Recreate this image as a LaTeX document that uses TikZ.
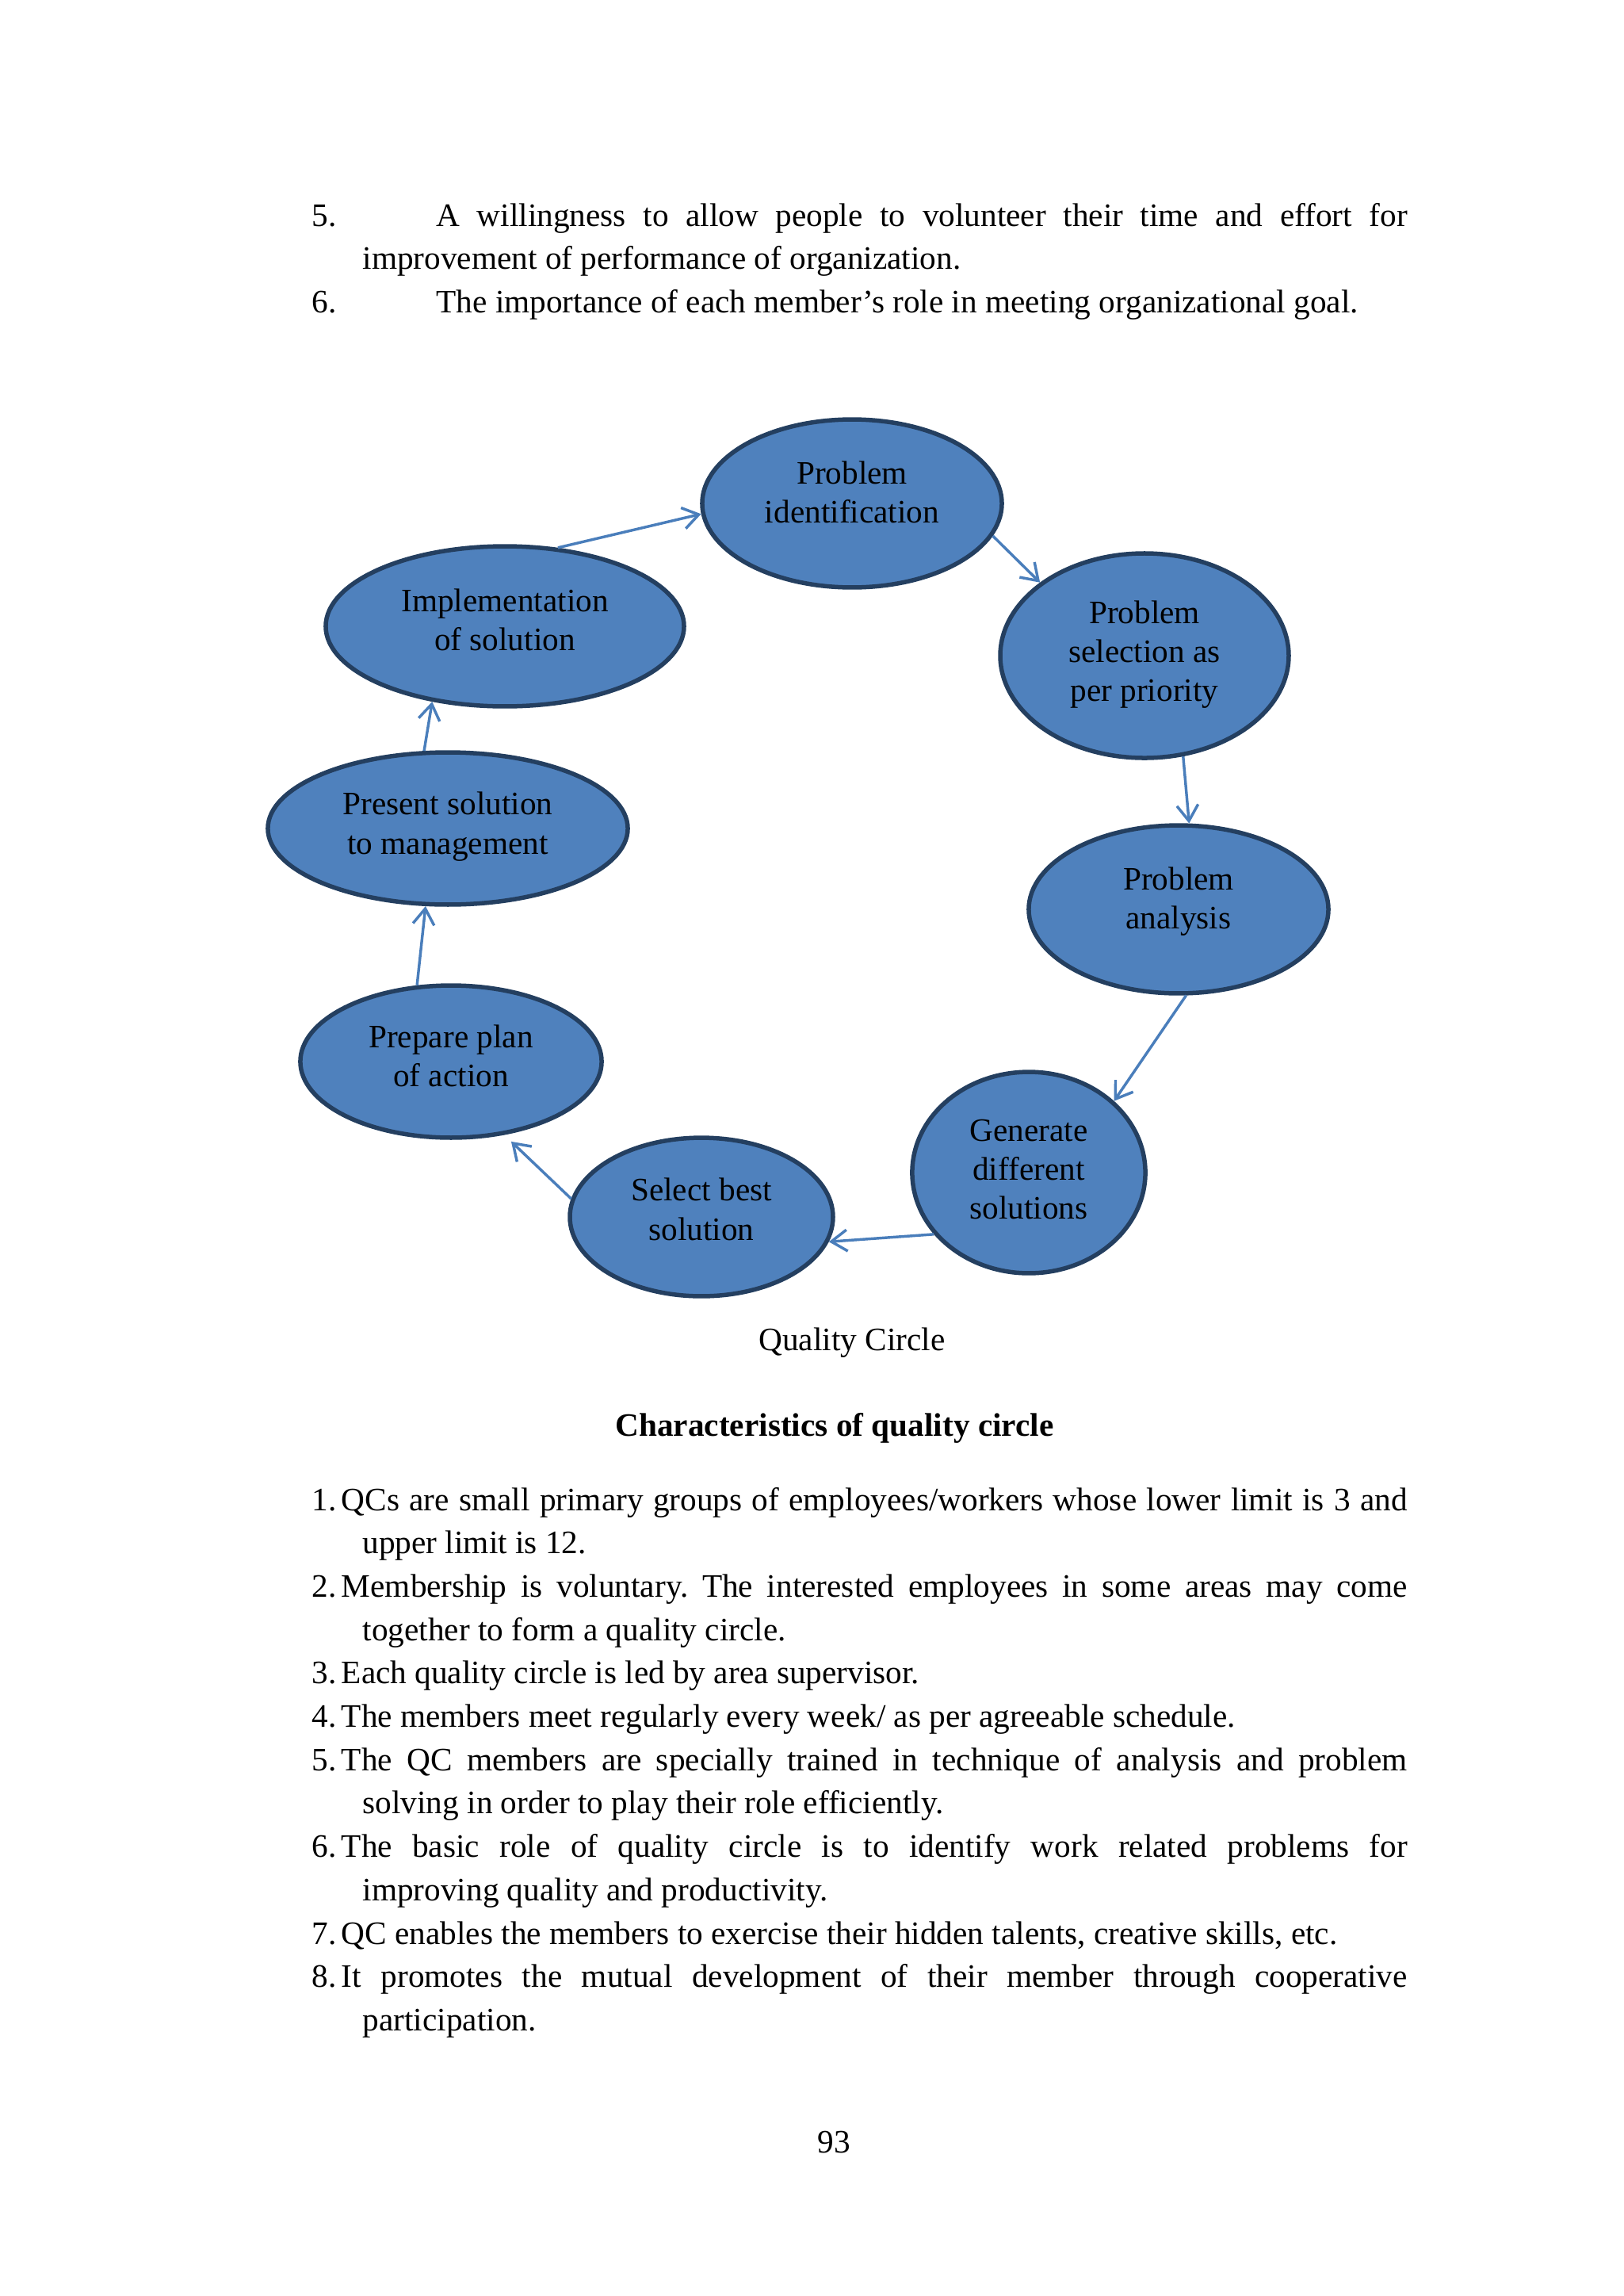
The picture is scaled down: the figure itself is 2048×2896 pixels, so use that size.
\documentclass[tikz,border=0pt]{standalone}
\usepackage{fontspec}
\setmainfont{Liberation Serif}
\usetikzlibrary{shapes.geometric,arrows.meta}
\definecolor{qfill}{HTML}{4F81BD}
\definecolor{qline}{HTML}{243F60}
\definecolor{qarrow}{HTML}{4A7EBB}
\begin{document}
\begin{tikzpicture}[x=0.29067pt,y=-0.29067pt,
  qell/.style={ellipse,draw=qline,line width=1.6pt,fill=qfill,inner sep=0pt},
  qtext/.style={align=center,font=\fontsize{12}{14.3}\selectfont,inner sep=0pt},
  arr/.style={draw=qarrow,line width=1pt,-{Straight Barb[length=5.8pt,width=7.8pt]}},
  body/.style={inner sep=0pt,anchor=base west,font=\fontsize{12}{15.9}\selectfont},
  ctext/.style={inner sep=0pt,anchor=base,font=\fontsize{12}{15.9}\selectfont}]
\fill[white] (0,0) rectangle (2048,2896);
\useasboundingbox (0,0) rectangle (2048,2896);

% top paragraphs
\node[body] (ptop) at (393,285) {\parbox[t]{401.7pt}{\frenchspacing\tolerance=9999
\hangindent=18.6pt\hangafter=1 \makebox[45.6pt][l]{5.}A willingness to allow people to volunteer their time and effort for\linebreak improvement of performance of organization.\par
\hangindent=18.6pt\hangafter=1 \makebox[45.6pt][l]{6.}The importance of each member’s role in meeting organizational goal.}};

% ellipses
\node[qell,minimum width=109.9pt,minimum height=61.6pt] (e1) at (1075,635) {};
\node[qell,minimum width=105.8pt,minimum height=75.0pt] (e2) at (1444,827) {};
\node[qell,minimum width=109.9pt,minimum height=61.6pt] (e3) at (1487,1147) {};
\node[qell,minimum width=85.5pt,minimum height=73.8pt] (e4) at (1298,1479) {};
\node[qell,minimum width=96.5pt,minimum height=58.1pt] (e5) at (885,1535) {};
\node[qell,minimum width=110.5pt,minimum height=55.8pt] (e6) at (569,1339) {};
\node[qell,minimum width=132pt,minimum height=55.8pt] (e7) at (565,1045) {};
\node[qell,minimum width=131.4pt,minimum height=58.7pt] (e8) at (637,790) {};

\node[qtext] (t1) at ([yshift=4.1pt]e1.center) {Problem\\identification};
\node[qtext] (t2) at ([yshift=0.4pt]e2.center) {Problem\\selection as\\per priority};
\node[qtext] (t3) at ([yshift=2.8pt]e3.center) {Problem\\analysis};
\node[qtext] (t4) at ([yshift=1.2pt]e4.center) {Generate\\different\\solutions};
\node[qtext] (t5) at ([yshift=2.8pt]e5.center) {Select best\\solution};
\node[qtext] (t6) at ([yshift=2pt]e6.center) {Prepare plan\\of action};
\node[qtext] (t7) at ([yshift=0.7pt]e7.center) {Present solution\\to management};
\node[qtext] (t8) at ([yshift=2.3pt]e8.center) {Implementation\\of solution};

% connectors
\draw[arr] (e8.56) -- (e1.184);
\draw[arr] (e1.-13) -- (e2.145);
\draw[arr] (e2.-69) -- (e3.83);
\draw[arr] (e3.-85) -- (e4.40);
\draw[arr] (e4.213) -- (e5.-11);
\draw[arr,shorten >=3.5pt] (e5.172) -- (e6.-54);
\draw[arr] (e6.114) -- (e7.-106);
\draw[arr] (e7.107) -- (e8.226);

% captions
\node[ctext] (cap) at (1075,1703) {Quality Circle};
\node[ctext] (head) at (1053,1811) {\textbf{Characteristics of quality circle}};

% list
\node[body] (plist) at (393,1905) {\parbox[t]{401.7pt}{\frenchspacing\tolerance=9999
\hangindent=18.6pt\hangafter=1 \makebox[10.8pt][l]{1.}QCs are small primary groups of employees/workers whose lower limit is 3 and\linebreak upper limit is 12.\par
\hangindent=18.6pt\hangafter=1 \makebox[10.8pt][l]{2.}Membership is voluntary. The interested employees in some areas may come\linebreak together to form a quality circle.\par
\hangindent=18.6pt\hangafter=1 \makebox[10.8pt][l]{3.}Each quality circle is led by area supervisor.\par
\hangindent=18.6pt\hangafter=1 \makebox[10.8pt][l]{4.}The members meet regularly every week/ as per agreeable schedule.\par
\hangindent=18.6pt\hangafter=1 \makebox[10.8pt][l]{5.}The QC members are specially trained in technique of analysis and problem\linebreak solving in order to play their role efficiently.\par
\hangindent=18.6pt\hangafter=1 \makebox[10.8pt][l]{6.}The basic role of quality circle is to identify work related problems for\linebreak improving quality and productivity.\par
\hangindent=18.6pt\hangafter=1 \makebox[10.8pt][l]{7.}QC enables the members to exercise their hidden talents, creative skills, etc.\par
\hangindent=18.6pt\hangafter=1 \makebox[10.8pt][l]{8.}It promotes the mutual development of their member through cooperative\linebreak participation.}};

\node[ctext] (pnum) at (1052,2715) {93};
\end{tikzpicture}
\end{document}
